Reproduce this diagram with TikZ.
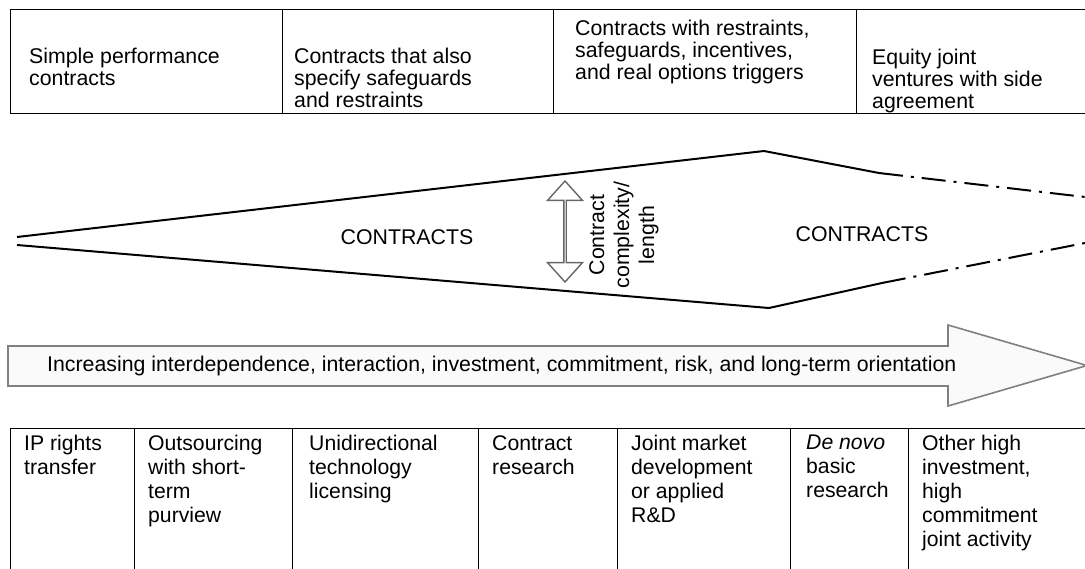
\documentclass[tikz,border=0pt]{standalone}
\usepackage{fontspec}
\setmainfont{Liberation Sans}
\usepackage{tikz}
\usetikzlibrary{shapes.arrows}

\begin{document}
\begin{tikzpicture}[x=1pt, y=-1pt]
        % ================= styles =================
        \tikzset{
            % table cell (outline only)
            cell/.style={draw=black, line width=1.4pt, anchor=north west, inner sep=0pt},
            % text inside the cells
            celltext/.style={anchor=north west, align=left, inner sep=0pt, font=\fontsize{21.2}{24}\selectfont},
            toptext/.style={celltext, font=\fontsize{21.3}{21.8}\selectfont},
            % free labels
            label_text/.style={inner sep=0pt, font=\fontsize{21.3}{25}\selectfont},
            % wedge outline and its dash-dot continuation
            wedge/.style={line width=2pt, black},
            wedge_ext/.style={line width=2pt, black, dash pattern=on 24pt off 8pt on 3pt off 8pt},
            % small double arrow
            cplx_arrow/.style={double arrow, draw=gray!80!black, fill=white, line width=1.4pt, rotate=90,
                minimum height=101pt, minimum width=35pt, double arrow head extend=9.5pt,
                double arrow tip angle=84, inner sep=0pt},
            % big arrow
            big_arrow/.style={draw=gray, fill=gray!4, line width=1.6pt}
        }

        \clip (0,0) rectangle (1085,568);

        % ================= 1. top row of contract types =================
        \node[cell, minimum width=272pt, minimum height=104pt] (T1) at (10,9) {};
        \node[cell, minimum width=271pt, minimum height=104pt] (T2) at (282,9) {};
        \node[cell, minimum width=303pt, minimum height=104pt] (T3) at (553,9) {};
        \node[cell, minimum width=260pt, minimum height=104pt] (T4) at (856,9) {};

        \node[toptext] (T1txt) at (29,48) {Simple performance\\contracts};
        \node[toptext] (T2txt) at (294,48) {Contracts that also\\specify safeguards\\and restraints};
        \node[toptext] (T3txt) at (575,20) {Contracts with restraints,\\safeguards, incentives,\\and real options triggers};
        \node[toptext] (T4txt) at (872,49) {Equity joint\\ventures with side\\agreement};

        % ================= 2. contracts wedge =================
        \coordinate (upL) at (17,237);
        \coordinate (upM) at (764,151);
        \coordinate (upR) at (879,173);
        \coordinate (upE) at (1085,197);
        \coordinate (loL) at (17,245);
        \coordinate (loM) at (769,308);
        \coordinate (loR) at (882,283);
        \coordinate (loE) at (1085,243);

        \draw[wedge] (upL) -- (upM) -- (upR);
        \draw[wedge] (loL) -- (loM) -- (loR);
        \draw[wedge_ext] (upR) -- (upE);
        \draw[wedge_ext] (loR) -- (loE);

        \node[label_text] (C1) at (407,237) {CONTRACTS};
        \node[label_text] (C2) at (862,234) {CONTRACTS};

        % --- contract complexity ---
        \node[cplx_arrow] (cplx) at (565,231.5) {};
        \node[label_text, rotate=90, align=center] (cplxtxt) at (624,235) {Contract\\complexity/\\length};

        % ================= 3. big arrow =================
        \draw[big_arrow] (8,346) -- (948,346) -- (948,325) -- (1087,365.5)
            -- (948,406) -- (948,386) -- (8,386) -- cycle;
        \node[label_text, anchor=west] (trend) at (47,366)
            {Increasing interdependence, interaction, investment, commitment, risk, and long-term orientation};

        % ================= 4. bottom row of activities =================
        \node[cell, minimum width=124pt, minimum height=160pt] (B1) at (10,428) {};
        \node[cell, minimum width=158pt, minimum height=160pt] (B2) at (134,428) {};
        \node[cell, minimum width=186pt, minimum height=160pt] (B3) at (292,428) {};
        \node[cell, minimum width=139pt, minimum height=160pt] (B4) at (478,428) {};
        \node[cell, minimum width=173pt, minimum height=160pt] (B5) at (617,428) {};
        \node[cell, minimum width=118pt, minimum height=160pt] (B6) at (790,428) {};
        \node[cell, minimum width=200pt, minimum height=160pt] (B7) at (908,428) {};

        \node[celltext] (B1txt) at (24,435) {IP rights\\transfer};
        \node[celltext] (B2txt) at (148,435) {Outsourcing\\with short-\\term\\purview};
        \node[celltext] (B3txt) at (309,435) {Unidirectional\\technology\\licensing};
        \node[celltext] (B4txt) at (492,435) {Contract\\research};
        \node[celltext] (B5txt) at (631,435) {Joint market\\development\\or applied\\R\&D};
        \node[celltext] (B6txt) at (806,435) {\textit{De novo}\\basic\\research};
        \node[celltext] (B7txt) at (922,435) {Other high\\investment,\\high\\commitment\\joint activity};

    \end{tikzpicture}
\end{document}
